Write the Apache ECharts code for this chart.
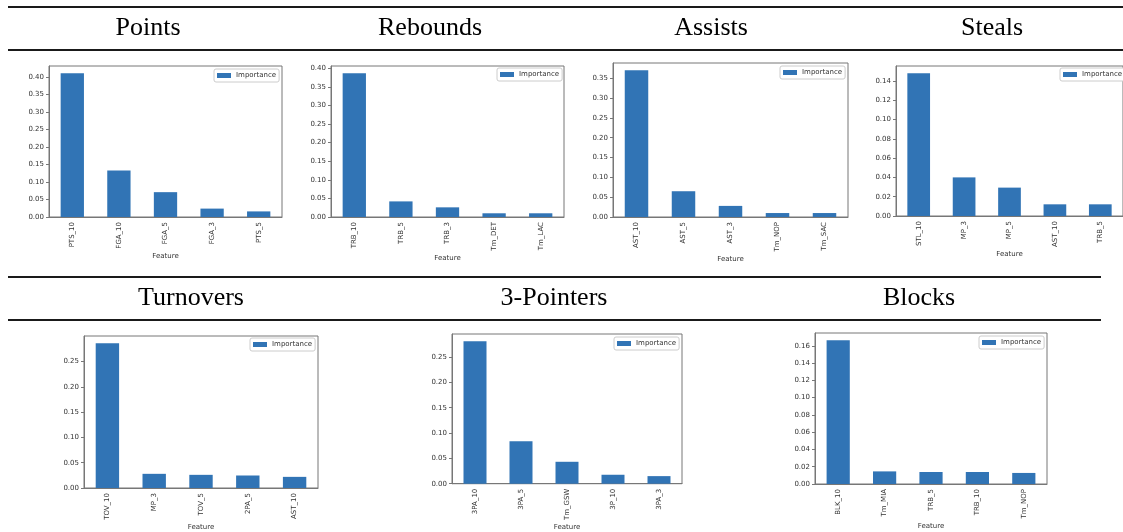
<!DOCTYPE html>
<html>
<head>
<meta charset="utf-8">
<script src="https://cdn.jsdelivr.net/npm/echarts@6/dist/echarts.min.js"></script>
<style>
  html, body { margin: 0; padding: 0; background: #fff; }
  #main { width: 1123px; height: 532px; }
</style>
</head>
<body>
<div id="main"></div>
<script>
// panel titles
var titles = ['Points', 'Rebounds', 'Assists', 'Steals', 'Turnovers', '3-Pointers', 'Blocks'];

// features per panel
var ptsFeatures = ['PTS_10', 'FGA_10', 'FGA_5', 'FGA_3', 'PTS_5'];
var trbFeatures = ['TRB_10', 'TRB_5', 'TRB_3', 'Tm_DET', 'Tm_LAC'];
var astFeatures = ['AST_10', 'AST_5', 'AST_3', 'Tm_NOP', 'Tm_SAC'];
var stlFeatures = ['STL_10', 'MP_3', 'MP_5', 'AST_10', 'TRB_5'];
var tovFeatures = ['TOV_10', 'MP_3', 'TOV_5', '2PA_5', 'AST_10'];
var fg3Features = ['3PA_10', '3PA_5', 'Tm_GSW', '3P_10', '3PA_3'];
var blkFeatures = ['BLK_10', 'Tm_MIA', 'TRB_5', 'TRB_10', 'Tm_NOP'];

// importance values
var ptsValues = [0.411, 0.133, 0.071, 0.024, 0.016];
var trbValues = [0.387, 0.042, 0.026, 0.010, 0.010];
var astValues = [0.370, 0.065, 0.028, 0.010, 0.010];
var stlValues = [0.148, 0.040, 0.0294, 0.0121, 0.0121];
var tovValues = [0.286, 0.028, 0.026, 0.0247, 0.022];
var fg3Values = [0.2815, 0.084, 0.0433, 0.0177, 0.015];
var blkValues = [0.1665, 0.0146, 0.0139, 0.0139, 0.0128];

// y tick values
var ticks05_40 = [0, 0.05, 0.10, 0.15, 0.20, 0.25, 0.30, 0.35, 0.40];
var ticks05_35 = [0, 0.05, 0.10, 0.15, 0.20, 0.25, 0.30, 0.35];
var ticks05_25 = [0, 0.05, 0.10, 0.15, 0.20, 0.25];
var ticks02_14 = [0, 0.02, 0.04, 0.06, 0.08, 0.10, 0.12, 0.14];
var ticks02_16 = [0, 0.02, 0.04, 0.06, 0.08, 0.10, 0.12, 0.14, 0.16];

var panels = [
  { f: ptsFeatures, v: ptsValues, t: ticks05_40, step: 0.05 },
  { f: trbFeatures, v: trbValues, t: ticks05_40, step: 0.05 },
  { f: astFeatures, v: astValues, t: ticks05_35, step: 0.05 },
  { f: stlFeatures, v: stlValues, t: ticks02_14, step: 0.02 },
  { f: tovFeatures, v: tovValues, t: ticks05_25, step: 0.05 },
  { f: fg3Features, v: fg3Values, t: ticks05_25, step: 0.05 },
  { f: blkFeatures, v: blkValues, t: ticks02_16, step: 0.02 }
];

// layout: plot boxes [left, top, width, height], legend [left, top], titles [x, y]
var boxes = [
  [49, 66, 233, 151],
  [331, 66, 233, 151],
  [613, 63, 235, 154],
  [896, 66, 233, 150],
  [84, 336, 234, 152],
  [452, 334, 230, 150],
  [815, 333, 232, 151]
];
var legendPos = [[214, 69], [497, 68], [780, 66], [1060, 68], [250, 338], [614, 337], [979, 336]];
var titlePos = [[148, 28], [430, 28], [711, 28], [992, 28], [191, 298], [554, 298], [919, 298]];

var barColor = '#3174b5';
var spine = '#777';
var tickText = '#333';

var grid = [], xAxis = [], yAxis = [], series = [], legend = [], graphic = [];

panels.forEach(function (p, i) {
  var b = boxes[i];
  var maxV = Math.max.apply(null, p.v) * 1.05;
  grid.push({
    left: b[0], top: b[1], width: b[2], height: b[3],
    show: true, borderColor: spine, borderWidth: 1, backgroundColor: '#fff',
    containLabel: false
  });
  xAxis.push({
    type: 'category', gridIndex: i, data: p.f,
    name: 'Feature', nameLocation: 'middle', nameGap: 34,
    nameTextStyle: { fontFamily: 'DejaVu Sans', fontSize: 7, color: tickText },
    axisLine: { lineStyle: { color: spine, width: 1 } },
    axisTick: { alignWithLabel: true, length: 3, lineStyle: { color: spine } },
    axisLabel: { rotate: 90, fontFamily: 'DejaVu Sans', fontSize: 7, color: tickText, margin: 5, interval: 0 }
  });
  yAxis.push({
    type: 'value', gridIndex: i, min: 0, max: maxV, interval: p.step,
    splitLine: { show: false },
    axisLine: { show: true, lineStyle: { color: spine, width: 1 } },
    axisTick: { show: true, length: 3, lineStyle: { color: spine }, customValues: p.t },
    axisLabel: {
      fontFamily: 'DejaVu Sans', fontSize: 7, color: tickText, margin: 5,
      customValues: p.t,
      formatter: function (val) { return val.toFixed(2); }
    }
  });
  series.push({
    name: 'Importance', type: 'bar', xAxisIndex: i, yAxisIndex: i,
    data: p.v, barWidth: '50%',
    itemStyle: { color: barColor },
    silent: true
  });
  legend.push({
    data: ['Importance'],
    left: legendPos[i][0], top: legendPos[i][1],
    orient: 'horizontal',
    icon: 'rect', itemWidth: 14, itemHeight: 5, itemGap: 5,
    padding: [3, 3, 3, 3],
    backgroundColor: '#fff', borderColor: '#ccc', borderWidth: 1, borderRadius: 2,
    textStyle: { fontFamily: 'DejaVu Sans', fontSize: 7, color: tickText, padding: [0, 0, 0, 0] },
    selectedMode: false
  });
  graphic.push({
    type: 'text',
    x: titlePos[i][0], y: titlePos[i][1],
    style: {
      text: titles[i], fill: '#000',
      font: '26px "Liberation Serif", "Times New Roman", serif',
      textAlign: 'center', textVerticalAlign: 'middle', verticalAlign: 'middle'
    }
  });
});

// header rules
var rules = [[8, 1123, 7], [8, 1123, 50], [8, 1101, 277], [8, 1101, 320]];
rules.forEach(function (r) {
  graphic.push({
    type: 'line',
    shape: { x1: r[0], y1: r[2], x2: r[1], y2: r[2] },
    style: { stroke: '#1a1a1a', lineWidth: 2 }
  });
});

var myChart = echarts.init(document.getElementById('main'));
myChart.setOption({
  animation: false,
  grid: grid,
  xAxis: xAxis,
  yAxis: yAxis,
  legend: legend,
  series: series,
  graphic: graphic
});
window.addEventListener('resize', function () {
  myChart.resize();
});
</script>
</body>
</html>
